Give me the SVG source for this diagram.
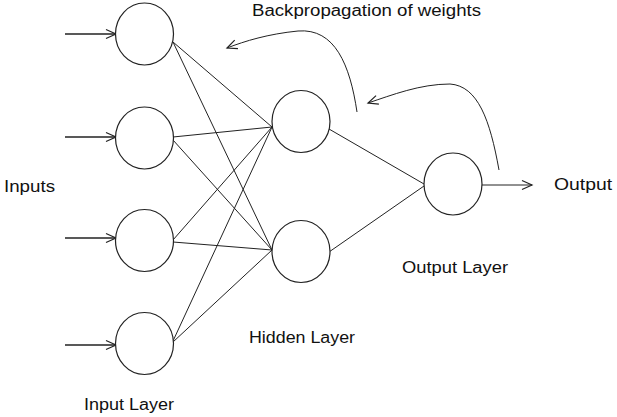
<svg xmlns="http://www.w3.org/2000/svg" width="617" height="417" viewBox="0 0 617 417">
<style>
.n{fill:#fff;stroke:#222;stroke-width:1.2}
.c{fill:none;stroke:#222;stroke-width:1}
.a{fill:none;stroke:#222;stroke-width:1.5}
.t{font-family:"Liberation Sans",Arial,sans-serif;font-size:16px;fill:#111}
</style>
<defs>
<marker id="arr" markerWidth="14" markerHeight="12" refX="12" refY="6" orient="auto" markerUnits="userSpaceOnUse">
<polyline points="2,1.5 12,6 2,10.5" fill="none" stroke="#222" stroke-width="1.2"/>
</marker>
</defs>
<rect width="617" height="417" fill="#fff"/>
<g id="connectors">
<line class="a" x1="65" y1="34" x2="116" y2="34" marker-end="url(#arr)"/>
<line class="a" x1="65" y1="137" x2="116" y2="137" marker-end="url(#arr)"/>
<line class="a" x1="65" y1="238" x2="116" y2="238" marker-end="url(#arr)"/>
<line class="a" x1="65" y1="345" x2="116" y2="345" marker-end="url(#arr)"/>
<line class="c" x1="173" y1="42" x2="272" y2="127"/>
<line class="c" x1="173" y1="42" x2="272" y2="250"/>
<line class="c" x1="173" y1="137" x2="272" y2="127"/>
<line class="c" x1="173" y1="140" x2="272" y2="250"/>
<line class="c" x1="173" y1="240" x2="272" y2="127"/>
<line class="c" x1="173" y1="242" x2="272" y2="250"/>
<line class="c" x1="173" y1="341" x2="272" y2="127"/>
<line class="c" x1="173" y1="342" x2="272" y2="250"/>
<line class="c" x1="329" y1="129" x2="424" y2="184"/>
<line class="c" x1="329" y1="252" x2="424" y2="186"/>
<line class="c" x1="482" y1="185" x2="532" y2="185" marker-end="url(#arr)"/>
<path class="c" d="M357,112 C350,65 335,28 298,31 C268,34 245,41 227,48" marker-end="url(#arr)"/>
<path class="c" d="M499,170 C490,120 478,86 450,84 C420,84 392,95 368,103" marker-end="url(#arr)"/>
</g>
<g id="in1"><ellipse class="n" cx="144.5" cy="34" rx="29" ry="31"/></g>
<g id="in2"><ellipse class="n" cx="144.5" cy="138" rx="29" ry="31"/></g>
<g id="in3"><ellipse class="n" cx="144.5" cy="240.5" rx="29" ry="31"/></g>
<g id="in4"><ellipse class="n" cx="144.5" cy="343.5" rx="29" ry="31"/></g>
<g id="h1"><ellipse class="n" cx="301" cy="121.5" rx="29" ry="31"/></g>
<g id="h2"><ellipse class="n" cx="301" cy="251.5" rx="29" ry="31"/></g>
<g id="out"><ellipse class="n" cx="453" cy="184" rx="29" ry="31"/></g>
<g id="labels">
<text class="t" x="252" y="16" textLength="229" lengthAdjust="spacingAndGlyphs">Backpropagation of weights</text>
<text class="t" x="4" y="192" textLength="51" lengthAdjust="spacingAndGlyphs">Inputs</text>
<text class="t" x="84" y="410" textLength="90" lengthAdjust="spacingAndGlyphs">Input Layer</text>
<text class="t" x="249" y="343" textLength="106" lengthAdjust="spacingAndGlyphs">Hidden Layer</text>
<text class="t" x="402" y="273" textLength="106" lengthAdjust="spacingAndGlyphs">Output Layer</text>
<text class="t" x="554" y="190" textLength="58" lengthAdjust="spacingAndGlyphs">Output</text>
</g>
</svg>
